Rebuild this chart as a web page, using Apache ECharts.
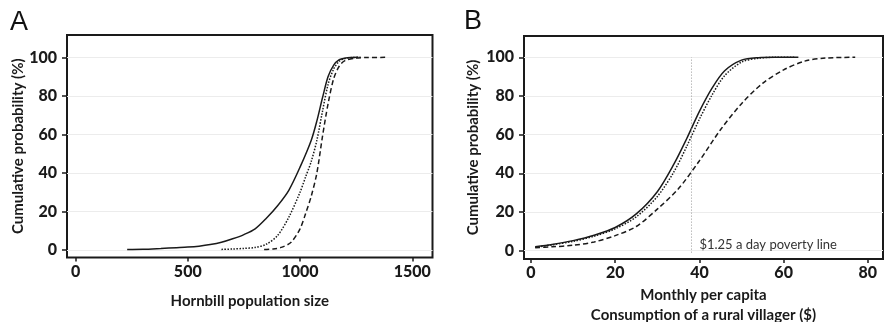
<!DOCTYPE html>
<html>
<head>
<meta charset="utf-8">
<script src="https://cdn.jsdelivr.net/npm/echarts@6/dist/echarts.min.js"></script>
<style>
html,body{margin:0;padding:0;background:#fff;}
#chart{width:884px;height:322px;}
</style>
</head>
<body>
<div id="chart"></div>
<script>
// Panel A: Hornbill population size (x) vs cumulative probability (%)
const aSolidX  = [230, 300, 380, 450, 500, 550, 600, 650, 700, 750, 800, 850, 900, 950, 1000, 1050, 1075, 1100, 1125, 1150, 1175, 1200, 1230, 1260];
const aSolidY  = [0.3, 0.4, 0.8, 1.2, 1.5, 2, 2.8, 4, 5.8, 8, 11, 16.5, 23, 31, 43, 57, 67, 79, 90, 96, 98.8, 99.6, 99.9, 100];
const aDotX    = [650, 700, 750, 800, 850, 900, 950, 1000, 1025, 1050, 1075, 1100, 1125, 1150, 1175, 1200, 1230, 1270];
const aDotY    = [0.3, 0.5, 0.8, 1.3, 3, 7.5, 17, 30, 38, 46, 57, 72, 86, 94, 98, 99.4, 99.9, 100];
const aDashX   = [840, 880, 920, 960, 1000, 1025, 1050, 1075, 1100, 1125, 1150, 1175, 1200, 1250, 1300, 1380];
const aDashY   = [0.2, 0.5, 1.5, 4, 11, 19, 28, 40, 59, 76, 89, 95.5, 98.3, 99.6, 99.9, 100];

// Panel B: monthly per capita consumption ($) vs cumulative probability (%)
const bSolidX  = [1, 5, 10, 15, 20, 25, 30, 34, 37, 40, 43, 46, 50, 54, 58, 63.5];
const bSolidY  = [2, 3.2, 5.2, 8, 12, 19, 30.5, 45, 58, 72, 84, 93, 98.5, 99.8, 100, 100];
const bDotX    = [1, 5, 10, 15, 20, 25, 30, 34, 37, 40, 43, 46, 50, 54, 58, 62.5];
const bDotY    = [1.8, 3, 4.8, 7.5, 11.3, 17.5, 28, 41, 54, 68, 80.5, 90.5, 97.5, 99.5, 100, 100];
const bDashX   = [1, 5, 10, 15, 20, 25, 30, 35, 40, 45, 50, 55, 60, 65, 70, 77];
const bDashY   = [1.5, 2, 2.8, 4.5, 7.8, 12.5, 21.5, 32, 46.5, 62.5, 76, 86.5, 93.5, 98, 99.6, 100];

const povertyX = 38;
const povertyLabel = '$1.25 a day poverty line';

const yTicks  = [0, 20, 40, 60, 80, 100];
const aXTicks = [0, 500, 1000, 1500];
const bXTicks = [0, 20, 40, 60, 80];

const pair = (xs, ys) => xs.map((x, i) => [x, ys[i]]);

const FONT = 'Lato';
const ink = '#1a1a1a';
const tickLabel = { color: ink, fontFamily: FONT, fontWeight: 900, fontSize: 16, formatter: v => String(v) };
const nameStyle = { color: ink, fontFamily: FONT, fontWeight: 'bold', fontSize: 15 };

function xAxisCfg(gi, min, max, ticks, name, gap) {
  return {
    type: 'value', gridIndex: gi, min: min, max: max,
    name: name, nameLocation: 'middle', nameGap: gap, nameTextStyle: Object.assign({lineHeight: 19.5}, nameStyle),
    axisLine: { show: false, onZero: false },
    axisTick: { show: true, inside: false, length: 4, customValues: ticks, lineStyle: { color: ink, width: 1.5 } },
    axisLabel: { customValues: ticks, margin: 6, ...tickLabel },
    splitLine: { show: false }
  };
}
function yAxisCfg(gi, min, max, gap) {
  return {
    type: 'value', gridIndex: gi, min: min, max: max,
    name: 'Cumulative probability (%)', nameLocation: 'middle', nameGap: gap, nameTextStyle: nameStyle,
    axisLine: { show: false, onZero: false },
    axisTick: { show: true, inside: false, length: 5, customValues: yTicks, lineStyle: { color: ink, width: 1.5 } },
    axisLabel: { customValues: yTicks, margin: 10, ...tickLabel },
    splitLine: { show: true, lineStyle: { color: '#ececec', width: 1 } }
  };
}
function lineSeries(xi, data, type) {
  return {
    type: 'line', xAxisIndex: xi, yAxisIndex: xi, data: data,
    showSymbol: false, symbol: 'none', smooth: 0.3,
    lineStyle: { color: ink, width: 1.5, type: type }
  };
}

const chart = echarts.init(document.getElementById('chart'), null, { renderer: 'canvas' });
const bDot = lineSeries(1, pair(bDotX, bDotY), 'dotted');
bDot.markLine = {
  silent: true, symbol: 'none', label: { show: false },
  lineStyle: { color: '#9a9a9a', width: 1, type: [1, 2] },
  data: [[{ coord: [povertyX, -1] }, { coord: [povertyX, 100] }]]
};
bDot.markPoint = {
  symbol: 'circle', symbolSize: 0,
  label: { show: true, position: 'right', distance: 0, formatter: povertyLabel, color: '#333', fontFamily: FONT, fontSize: 13 },
  data: [{ coord: [povertyX + 2, 2.8] }]
};

chart.setOption({
  animation: false,
  backgroundColor: '#fff',
  graphic: [
    { type: 'text', left: 10, top: 9, style: { text: 'A', font: '27px "Liberation Sans"', fill: '#111' } },
    { type: 'text', left: 464, top: 8, style: { text: 'B', font: '27px "Liberation Sans"', fill: '#111' } }
  ],
  grid: [
    { left: 67, top: 35, width: 365.5, height: 222.5, show: true, borderColor: ink, borderWidth: 2, backgroundColor: 'transparent', containLabel: false, outerBoundsMode: 'none' },
    { left: 524, top: 36, width: 359, height: 223, show: true, borderColor: ink, borderWidth: 2, backgroundColor: 'transparent', containLabel: false, outerBoundsMode: 'none' }
  ],
  xAxis: [
    xAxisCfg(0, -38, 1590, aXTicks, 'Hornbill population size', 34),
    xAxisCfg(1, -1.66, 83.6, bXTicks, 'Monthly per capita\nConsumption of a rural villager ($)', 23)
  ],
  yAxis: [
    yAxisCfg(0, -3.9, 111.6, 41),
    yAxisCfg(1, -4.3, 111, 43)
  ],
  series: [
    lineSeries(0, pair(aSolidX, aSolidY), 'solid'),
    lineSeries(0, pair(aDotX, aDotY), 'dotted'),
    lineSeries(0, pair(aDashX, aDashY), [5, 3]),
    lineSeries(1, pair(bSolidX, bSolidY), 'solid'),
    bDot,
    lineSeries(1, pair(bDashX, bDashY), [5, 3])
  ]
});
</script>
</body>
</html>
